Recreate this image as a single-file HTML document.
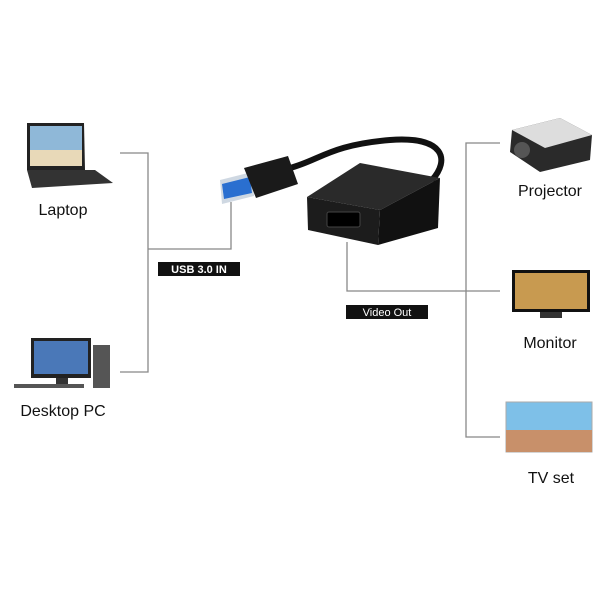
<!DOCTYPE html>
<html><head><meta charset="utf-8"><style>
body{margin:0;background:#fff;}
svg{display:block}
text{font-family:"Liberation Sans",Arial,sans-serif}
</style></head><body>
<svg width="600" height="600" viewBox="0 0 600 600" xmlns="http://www.w3.org/2000/svg">
<rect width="600" height="600" fill="#fff"/>
<g stroke="#888" stroke-width="1.3" fill="none">
<polyline points="120,153 148,153 148,372 120,372"/>
<polyline points="148,249 231,249 231,202"/>
<polyline points="347,242 347,291 500,291"/>
<polyline points="500,143 466,143 466,437 500,437"/>
</g>
<rect x="158" y="262" width="82" height="14" fill="#111"/>
<text x="199" y="273" font-size="11" fill="#fff" text-anchor="middle" font-weight="bold">USB 3.0 IN</text>
<rect x="346" y="305" width="82" height="14" fill="#111"/>
<text x="387" y="316" font-size="11" fill="#fff" text-anchor="middle">Video Out</text>
<polygon points="27,123 84,123 85,170 27,170" fill="#222"/>
<rect x="30" y="126" width="52" height="40" fill="#8fb8d8"/>
<rect x="30" y="150" width="52" height="16" fill="#e8d9b8"/>
<polygon points="27,170 95,170 113,183 32,188" fill="#333"/>
<text x="63" y="215" font-size="16" fill="#111" text-anchor="middle">Laptop</text>
<rect x="31" y="338" width="60" height="40" fill="#222"/>
<rect x="34" y="341" width="54" height="33" fill="#4a78b8"/>
<rect x="56" y="378" width="12" height="6" fill="#333"/>
<rect x="93" y="345" width="17" height="43" fill="#555"/>
<rect x="14" y="384" width="70" height="4" fill="#555"/>
<text x="63" y="416" font-size="16" fill="#111" text-anchor="middle">Desktop PC</text>
<path d="M290,168 C320,160 330,145 390,140 C445,136 450,160 432,180" stroke="#111" stroke-width="6" fill="none"/>
<polygon points="220,180 252,172 254,196 222,204" fill="#cfd8e2"/>
<polygon points="222,184 250,177 252,193 224,199" fill="#2a6fd0"/>
<polygon points="244,168 288,156 298,184 256,198" fill="#1a1a1a"/>
<polygon points="307,197 360,163 440,178 380,210" fill="#2a2a2a"/>
<polygon points="380,210 440,178 438,228 378,245" fill="#111"/>
<polygon points="307,197 380,210 378,245 308,230" fill="#1c1c1c"/>
<rect x="327" y="212" width="33" height="15" rx="2" fill="#000" stroke="#444"/>
<polygon points="512,130 560,118 592,135 590,160 540,172 510,152" fill="#2a2a2a"/>
<polygon points="512,130 560,118 592,135 545,148" fill="#ddd"/>
<circle cx="522" cy="150" r="8" fill="#555"/>
<text x="550" y="196" font-size="16" fill="#111" text-anchor="middle">Projector</text>
<rect x="512" y="270" width="78" height="42" fill="#111"/>
<rect x="515" y="273" width="72" height="36" fill="#c89a50"/>
<rect x="540" y="312" width="22" height="6" fill="#333"/>
<text x="550" y="348" font-size="16" fill="#111" text-anchor="middle">Monitor</text>
<rect x="506" y="402" width="86" height="50" fill="#7ec0e8" stroke="#aaa"/>
<rect x="506" y="430" width="86" height="22" fill="#c8906a"/>
<text x="551" y="483" font-size="16" fill="#111" text-anchor="middle">TV set</text>
</svg>
</body></html>
